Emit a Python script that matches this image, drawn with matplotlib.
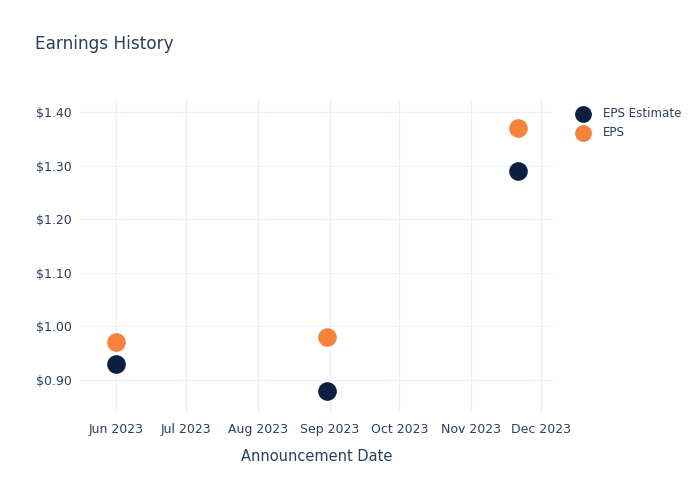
import matplotlib
matplotlib.use("Agg")
import matplotlib.pyplot as plt
import matplotlib.dates as mdates
import numpy as np
import datetime as dt

dates = ["2023-06-01", "2023-08-31", "2023-11-21"]
eps_estimate = [0.93, 0.88, 1.29]
eps_actual = [0.97, 0.98, 1.37]
series_names = ["EPS Estimate", "EPS"]
series_colors = ["#0b1f40", "#f7823a"]
y_ticks = [0.90, 1.00, 1.10, 1.20, 1.30, 1.40]

text_color = "#2a3f5f"
grid_color = "#ebf0f8"

x = [dt.datetime.strptime(d, "%Y-%m-%d") for d in dates]

fig = plt.figure(figsize=(7, 5), dpi=100)
ax = fig.add_axes([80/700, 1-412/500, (553-80)/700, (412-100)/500])

for vals, name, col in zip([eps_estimate, eps_actual], series_names, series_colors):
    ax.scatter(x, vals, s=180, color=col, label=name, zorder=3, linewidths=0)

ax.set_xlim(dt.datetime(2023, 5, 16, 12), dt.datetime(2023, 12, 6, 5))
ax.set_ylim(0.8403, 1.4224)
ax.set_yticks(y_ticks)
ax.set_yticklabels([f"${v:.2f}" for v in y_ticks])
ax.xaxis.set_major_locator(mdates.MonthLocator())
ax.xaxis.set_major_formatter(mdates.DateFormatter("%b %Y"))

for s in ax.spines.values():
    s.set_visible(False)
ax.grid(True, color=grid_color, linewidth=1)
ax.set_axisbelow(True)
ax.tick_params(length=0, colors=text_color, labelsize=9, pad=6)
ax.tick_params(axis="x", pad=8)
ax.set_xlabel("Announcement Date", color=text_color, fontsize=10.5, labelpad=9)

fig.text(35/700, 1-44/500, "Earnings History", color=text_color, fontsize=12.2, va="center", ha="left")

leg = ax.legend(loc="upper left", bbox_to_anchor=(566/700, 1-102/500), bbox_transform=fig.transFigure,
                frameon=False, fontsize=8.6, labelcolor=text_color, handletextpad=0.7,
                labelspacing=0.5, markerscale=0.9, borderaxespad=0)

fig.savefig("out.png", dpi=100)
